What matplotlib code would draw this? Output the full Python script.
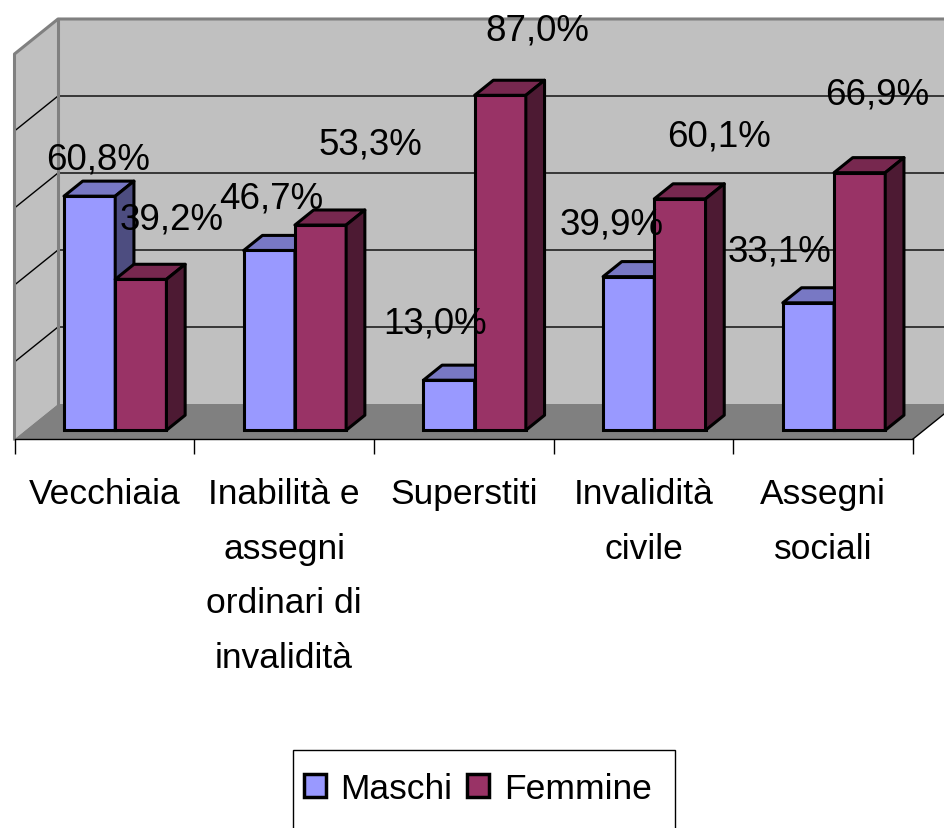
import numpy as np
import matplotlib
matplotlib.use("Agg")
import matplotlib.pyplot as plt
from matplotlib.patches import Polygon, Rectangle

plt.rcParams["font.family"] = ["Liberation Sans", "DejaVu Sans"]

categories = ["Vecchiaia", "Inabilità e\nassegni\nordinari di\ninvalidità",
              "Superstiti", "Invalidità\ncivile", "Assegni\nsociali"]
maschi = [60.8, 46.7, 13.0, 39.9, 33.1]
femmine = [39.2, 53.3, 87.0, 60.1, 66.9]
series_names = ["Maschi", "Femmine"]

# label offsets from the front-top centre of each bar (pixels), as Excel placed them
offs_maschi = [(8, -37), (2, -52), (-14, -57), (-17, -53), (-29, -52)]
offs_femmine = [(31, -60), (50, -81), (37, -65), (39, -63), (18, -79)]

W, H, DPI = 945, 829, 100
fig = plt.figure(figsize=(W / DPI, H / DPI), dpi=DPI)

# front plane of the 3D box in pixels
x_left, x_right = 14.5, 913.0
y_floor, px_per_pct = 440.0, 3.85
ax = fig.add_axes([x_left / W, (H - y_floor) / H,
                   (x_right - x_left) / W, 100 * px_per_pct / H])
ax.set_xlim(-0.5, 4.5)
ax.set_ylim(0, 100)
ax.patch.set_visible(False)
for s in ["left", "right", "top"]:
    ax.spines[s].set_visible(False)
ax.spines["bottom"].set_color("black")
ax.spines["bottom"].set_linewidth(1.0)
ax.set_yticks([])
ax.set_xticks(np.arange(-0.5, 5, 1.0))
ax.tick_params(axis="x", length=10.5, width=1.0, color="black", labelbottom=False)

px_x = (x_right - x_left) / 5
DX = 43.5 / px_x          # depth of the box, data units
DY = 35.0 / px_per_pct
n = len(categories)
xl, xr = -0.5, n - 0.5

wall = "#c0c0c0"
edge_gray = "#808080"
# floor
ax.add_patch(Polygon([(xl, 0), (xr, 0), (xr + DX, DY), (xl + DX, DY)],
                     closed=True, facecolor="#808080", edgecolor="none",
                     clip_on=False, zorder=1))
ax.plot([xr, xr + DX], [0, DY], color="black", lw=1, clip_on=False, zorder=1)
# back wall
ax.add_patch(Polygon([(xl + DX, DY), (xr + DX, DY), (xr + DX, 100 + DY), (xl + DX, 100 + DY)],
                     closed=True, facecolor=wall, edgecolor="none",
                     clip_on=False, zorder=0.5))
# left wall
ax.add_patch(Polygon([(xl, 0), (xl + DX, DY), (xl + DX, 100 + DY), (xl, 100)],
                     closed=True, facecolor=wall, edgecolor="none",
                     clip_on=False, zorder=0.6))
# gridlines on both walls
for g in [20, 40, 60, 80]:
    ax.plot([xl, xl + DX, xr + DX], [g, g + DY, g + DY], color="black",
            lw=1, clip_on=False, zorder=0.8)
# wall edges
ax.plot([xl, xl, xl + DX, xr + DX], [0, 100, 100 + DY, 100 + DY],
        color=edge_gray, lw=2.2, clip_on=False, zorder=0.9)
ax.plot([xl + DX, xl + DX], [DY, 100 + DY], color=edge_gray, lw=2.2,
        clip_on=False, zorder=0.9)

# bars
f0, f1 = 0.25, 0.68
bx0, by0 = f0 * DX, f0 * DY
bdx, bdy = (f1 - f0) * DX, (f1 - f0) * DY
width = 0.285
x = np.arange(n)

styles = [("#9999ff", "#7878c4", "#4d4d80"), ("#993366", "#77284f", "#4d1a33")]
label_offs = [offs_maschi, offs_femmine]
for k, vals in enumerate([maschi, femmine]):
    front, top, side = styles[k]
    pos = x + (k - 0.5) * width + bx0
    bars = ax.bar(pos, vals, width, bottom=by0, color=front, edgecolor="black",
                  linewidth=2.2, zorder=2 + k, clip_on=False)
    for b in bars:
        x0, x1 = b.get_x(), b.get_x() + b.get_width()
        yb, yt = b.get_y(), b.get_y() + b.get_height()
        ax.add_patch(Polygon([(x0, yt), (x1, yt), (x1 + bdx, yt + bdy), (x0 + bdx, yt + bdy)],
                             closed=True, facecolor=top, edgecolor="black",
                             linewidth=2.2, joinstyle="round", zorder=2 + k, clip_on=False))
        ax.add_patch(Polygon([(x1, yb), (x1, yt), (x1 + bdx, yt + bdy), (x1 + bdx, yb + bdy)],
                             closed=True, facecolor=side, edgecolor="black",
                             linewidth=2.2, joinstyle="round", zorder=2 + k, clip_on=False))

# data labels
for k, vals in enumerate([maschi, femmine]):
    pos = x + (k - 0.5) * width + bx0
    for i, v in enumerate(vals):
        dx, dy = label_offs[k][i]
        ax.annotate(f"{v:.1f}".replace(".", ",") + "%", xy=(pos[i], by0 + v),
                    xytext=(dx * 72 / DPI, -dy * 72 / DPI), textcoords="offset points",
                    ha="center", va="center", fontsize=26.5, color="black",
                    zorder=10, annotation_clip=False)

# category labels
for i, c in enumerate(categories):
    ax.annotate(c, xy=(i, 0), xytext=(0, -38 * 72 / DPI), textcoords="offset points",
                ha="center", va="top", fontsize=25.5, linespacing=1.83,
                annotation_clip=False)

# legend (frame drawn separately: in the original its lower edge runs off the picture)
handles = [Rectangle((0, 0), 1, 1, facecolor=styles[k][0], edgecolor="black",
                     linewidth=2.5) for k in range(2)]
leg = fig.legend(handles, series_names, loc="upper left",
                 bbox_to_anchor=(293 / W, 1 - 762 / H), borderaxespad=0,
                 fontsize=25.5, frameon=False, ncol=2,
                 handlelength=0.62, handleheight=0.62, handletextpad=0.42,
                 columnspacing=0.42, borderpad=0.3)
fig.canvas.draw()
bb = leg.get_window_extent()
fig.patches.append(Rectangle((bb.x0 / W, -0.02), (bb.x1 - bb.x0 + 12) / W,
                             (1 - 751 / H) + 0.02, transform=fig.transFigure,
                             fill=False, edgecolor="black", linewidth=1.0))

fig.savefig("out.png", dpi=DPI, facecolor="white")
